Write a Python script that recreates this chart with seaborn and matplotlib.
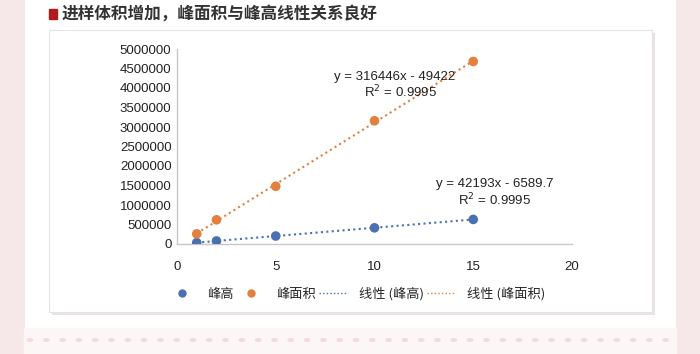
import numpy as np
import pandas as pd
import matplotlib
matplotlib.use("Agg")
import matplotlib.pyplot as plt
from matplotlib.patches import Rectangle, Circle
from matplotlib.lines import Line2D
import seaborn as sns

# data
volume = [1, 2, 5, 10, 15]
peak_height = [35000, 78000, 205000, 415000, 630000]
peak_area = [260000, 620000, 1480000, 3160000, 4680000]
eq_height = "y = 42193x - 6589.7"
eq_area = "y = 316446x - 49422"
r2_text = "R$^2$ = 0.9995"
title = "进样体积增加，峰面积与峰高线性关系良好"
legend_labels = ["峰高", "峰面积", "线性 (峰高)", "线性 (峰面积)"]

df = pd.DataFrame({"vol": volume, "height": peak_height, "area": peak_area})

blue = "#4A70B3"
orange = "#E3803D"
dots = (0, (1, 1.6))

sns.set_style("white")
plt.rcParams["font.family"] = ["Liberation Sans", "Noto Sans CJK SC", "DejaVu Sans"]
cjk = ["Noto Sans CJK SC", "DejaVu Sans"]

fig = plt.figure(figsize=(7, 3.54), dpi=100)
fig.patch.set_facecolor("white")

# page decoration: pink side strips, dotted band at bottom
pink = "#f6e8e8"
fig.patches.append(Rectangle((0, 0), 24 / 700, 1, transform=fig.transFigure, color=pink, zorder=0))
fig.patches.append(Rectangle((676 / 700, 0), 24 / 700, 1, transform=fig.transFigure, color=pink, zorder=0))
fig.patches.append(Rectangle((24 / 700, 0), 652 / 700, 26 / 354, transform=fig.transFigure,
                             color="#fdf6f6", zorder=0))
for px in np.arange(30, 676, 16.3):
    fig.patches.append(Circle((px / 700, 1 - 340 / 354), 2.6 / 700, transform=fig.transFigure,
                              color="#f0dcdc", zorder=1))

# chart frame with soft shadow
fig.patches.append(Rectangle((52 / 700, 1 - 315 / 354), 603 / 700, 282 / 354,
                             transform=fig.transFigure, facecolor="#e9e3e3", edgecolor="none", zorder=1))
fig.patches.append(Rectangle((49 / 700, 1 - 312 / 354), 603 / 700, 282 / 354,
                             transform=fig.transFigure, facecolor="white", edgecolor="#e6e2e2",
                             lw=0.8, zorder=2))

# title
fig.patches.append(Rectangle((49 / 700, 1 - 18.5 / 354), 8 / 700, 9 / 354, transform=fig.transFigure,
                             color="#b01c1c", zorder=3))
fig.text(62 / 700, 1 - 14 / 354, title, family=cjk, fontsize=12, fontweight="semibold",
         color="#333333", va="center", ha="left")

ax = fig.add_axes([177 / 700, 1 - 244 / 354, 395 / 700, 195 / 354])
ax.set_zorder(5)
ax.patch.set_alpha(0)

sns.regplot(data=df, x="vol", y="height", scatter=False, ci=None, ax=ax,
            line_kws=dict(color=blue, ls=dots, lw=1.5))
sns.regplot(data=df, x="vol", y="area", scatter=False, ci=None, ax=ax,
            line_kws=dict(color=orange, ls=dots, lw=1.5))
sns.scatterplot(data=df, x="vol", y="height", color=blue, s=48, edgecolor="none", ax=ax, zorder=4)
sns.scatterplot(data=df, x="vol", y="area", color=orange, s=48, edgecolor="none", ax=ax, zorder=4)

ax.set_xlim(0, 20)
ax.set_ylim(0, 5000000)
ax.set_xticks([0, 5, 10, 15, 20])
ax.set_yticks(np.arange(0, 5000001, 500000))
ax.ticklabel_format(style="plain", axis="y", useOffset=False)
ax.tick_params(axis="both", length=0, labelsize=9.5, colors="#222222")
ax.tick_params(axis="x", pad=12)
ax.tick_params(axis="y", pad=4)
ax.set_xlabel("")
ax.set_ylabel("")
for side in ["top", "right"]:
    ax.spines[side].set_visible(False)
for side in ["left", "bottom"]:
    ax.spines[side].set_color("#c8c8c8")
    ax.spines[side].set_linewidth(1)

# trendline equations
ax.text(11.0, 4280000, eq_area, fontsize=9.5, color="#222222", ha="center", va="center")
ax.text(11.3, 3900000, r2_text, fontsize=9.5, color="#222222", ha="center", va="center")
ax.text(16.1, 1530000, eq_height, fontsize=9.5, color="#222222", ha="center", va="center")
ax.text(16.1, 1130000, r2_text, fontsize=9.5, color="#222222", ha="center", va="center")

handles = [
    Line2D([], [], ls="", marker="o", color=blue, markersize=5),
    Line2D([], [], ls="", marker="o", color=orange, markersize=5),
    Line2D([], [], ls=dots, color=blue, lw=1),
    Line2D([], [], ls=dots, color=orange, lw=1),
]
fig.legend(handles, legend_labels, loc="center", bbox_to_anchor=(356 / 700, 1 - 294 / 354),
           ncol=4, frameon=False, prop={"family": cjk, "size": 9.5}, handlelength=2.2,
           handletextpad=0.8, columnspacing=0.25)

fig.savefig("out.png", dpi=100)
